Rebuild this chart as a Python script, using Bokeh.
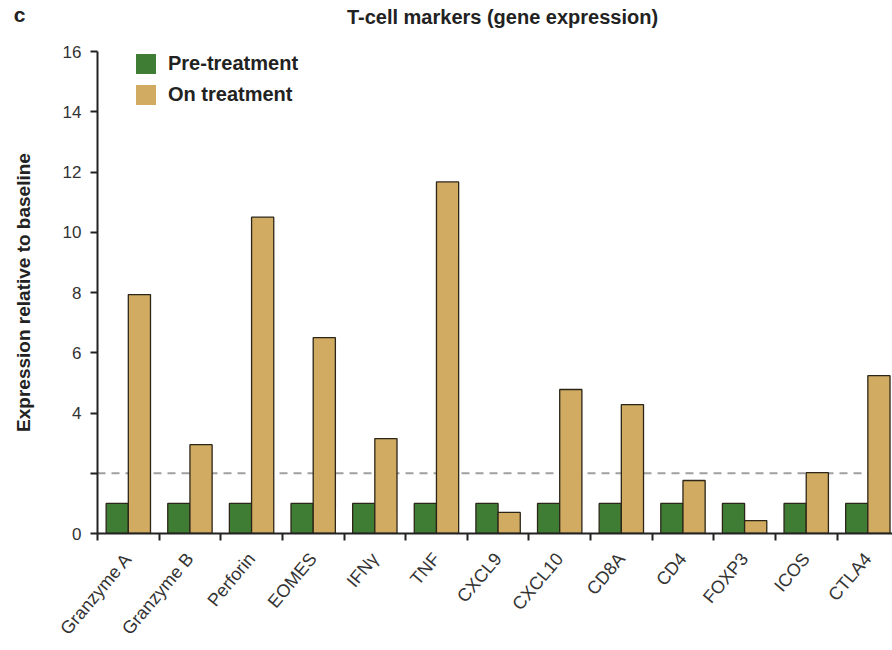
import math
from bokeh.plotting import figure
from bokeh.layouts import column
from bokeh.models import (ColumnDataSource, Range1d, FixedTicker, Span, Label,
                          Legend, LegendItem)
from bokeh.embed import file_html
from bokeh.resources import INLINE

# Gene markers and expression relative to baseline
markers = ["Granzyme A", "Granzyme B", "Perforin", "EOMES", "IFN\u03b3", "TNF",
           "CXCL9", "CXCL10", "CD8A", "CD4", "FOXP3", "ICOS", "CTLA4"]
pre_treatment = [1.0] * 13
on_treatment = [7.93, 2.95, 10.5, 6.5, 3.15, 11.67, 0.7, 4.78, 4.28, 1.76,
                0.43, 2.02, 5.24]
threshold = 2.0
y_ticks = [0, 2, 4, 6, 8, 10, 12, 14, 16]

GREEN = "#3f7d34"
GOLD = "#d1ab62"
EDGE = "#2b2618"
INK = "#222222"
FONT = "Liberation Sans"

W, H_HEAD, H_MAIN = 892, 34, 616
LEFT = 97  # left border shared by both strips

# ---- header strip: panel letter (as a left-axis label) and chart title ----
head = figure(width=W, height=H_HEAD, output_backend="svg", toolbar_location=None,
              x_range=Range1d(LEFT, W), y_range=Range1d(0, H_HEAD),
              x_axis_type=None, min_border_left=LEFT, min_border_right=0,
              min_border_top=0, min_border_bottom=0)
head.outline_line_color = None
head.xgrid.visible = False
head.ygrid.visible = False
hy = head.yaxis[0]
hy.ticker = FixedTicker(ticks=[20], minor_ticks=[])
hy.major_label_overrides = {20: "c"}
hy.axis_line_color = None
hy.major_tick_line_color = None
hy.major_tick_out = 0
hy.major_tick_in = 0
hy.major_label_standoff = 72
hy.major_label_text_font = FONT
hy.major_label_text_font_style = "bold"
hy.major_label_text_font_size = "21px"
hy.major_label_text_color = INK
head.add_layout(Label(x=502, y=H_HEAD - 16, text="T-cell markers (gene expression)",
                      text_font=FONT, text_font_style="bold", text_font_size="20px",
                      text_align="center", text_baseline="middle", text_color=INK))

# ---- main bar chart ----
idx = list(range(len(markers)))
bar_w = 0.36
src_pre = ColumnDataSource(dict(x=[i - bar_w / 2 for i in idx], top=pre_treatment))
src_on = ColumnDataSource(dict(x=[i + bar_w / 2 for i in idx], top=on_treatment))

p = figure(width=W, height=H_MAIN, output_backend="svg", toolbar_location=None,
           x_range=Range1d(-0.5, 12.4), y_range=Range1d(0, 16),
           min_border_left=LEFT, min_border_right=0, min_border_top=17,
           min_border_bottom=117)
p.outline_line_color = None
p.xgrid.visible = False
p.ygrid.visible = False

# dashed threshold line behind the bars
p.add_layout(Span(location=threshold, dimension="width", line_color="#a0a0a0",
                  line_width=2, line_dash="8 6", level="underlay"))

p.vbar(x="x", top="top", width=bar_w, source=src_pre, fill_color=GREEN,
       line_color=EDGE, line_width=1.3)
p.vbar(x="x", top="top", width=bar_w, source=src_on, fill_color=GOLD,
       line_color=EDGE, line_width=1.3)

# legend swatches without outlines (single point kept outside the x range)
leg_pre = p.vbar(x=[-10], top=[1], width=bar_w, fill_color=GREEN, line_color=None)
leg_on = p.vbar(x=[-10], top=[1], width=bar_w, fill_color=GOLD, line_color=None)
legend = Legend(items=[LegendItem(label="Pre-treatment", renderers=[leg_pre]),
                       LegendItem(label="On treatment", renderers=[leg_on])],
                location=(36, 426), padding=0, margin=0, spacing=6,
                glyph_width=25, glyph_height=25, label_standoff=10,
                label_text_font=FONT, label_text_font_style="bold",
                label_text_font_size="20px", label_text_color=INK,
                background_fill_alpha=0, border_line_color=None)
p.add_layout(legend)

# x axis: labels at category centres, tick marks at boundaries
xa = p.xaxis[0]
xa.ticker = FixedTicker(ticks=idx, minor_ticks=[i - 0.5 for i in range(14)])
xa.major_label_overrides = {i: m for i, m in zip(idx, markers)}
xa.major_tick_line_color = None
xa.minor_tick_out = 7
xa.minor_tick_in = 0
xa.minor_tick_line_width = 2
xa.minor_tick_line_color = INK
xa.axis_line_width = 2
xa.axis_line_color = INK
xa.major_label_orientation = math.radians(50)
xa.major_label_standoff = 15
xa.major_label_text_font = FONT
xa.major_label_text_font_size = "18px"
xa.major_label_text_color = "#333333"

ya = p.yaxis[0]
ya.ticker = FixedTicker(ticks=y_ticks, minor_ticks=[])
ya.major_label_overrides = {2: ""}
ya.major_tick_out = 7
ya.major_tick_in = 0
ya.major_tick_line_width = 2
ya.major_tick_line_color = INK
ya.axis_line_width = 2
ya.axis_line_color = INK
ya.major_label_standoff = 9
ya.major_label_text_font = FONT
ya.major_label_text_font_size = "17px"
ya.major_label_text_color = "#333333"
ya.axis_label = "Expression relative to baseline"
ya.axis_label_text_font = FONT
ya.axis_label_text_font_style = "bold"
ya.axis_label_text_font_size = "19px"
ya.axis_label_text_color = INK
ya.axis_label_standoff = 26

layout = column(head, p, spacing=0)
open("out.html", "w").write(file_html(layout, INLINE))
